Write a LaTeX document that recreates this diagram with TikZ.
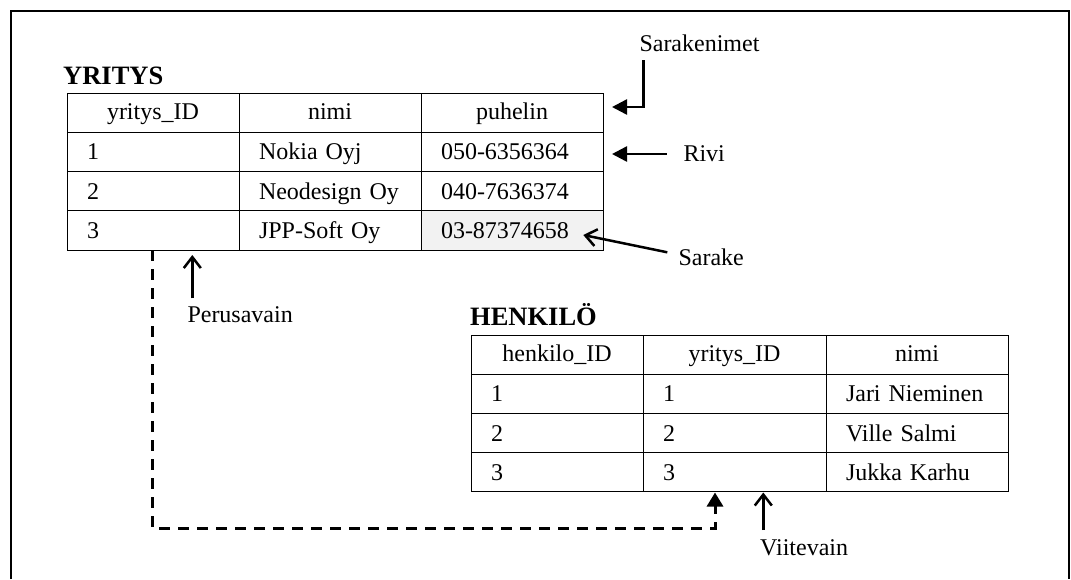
\documentclass[tikz,border=0pt]{standalone}
\usepackage{fontspec}
\setmainfont{Liberation Serif}
\usetikzlibrary{arrows.meta}
\definecolor{cellgray}{HTML}{F2F2F2}
\tikzset{
  cell/.style={draw=black, line width=0.9pt, anchor=north west, inner xsep=20pt, inner ysep=0pt,
    outer sep=0pt, minimum height=39.25pt, font=\fontsize{24}{28}\selectfont},
  hcell/.style={cell, align=center, text height=17pt, text depth=4pt},
  dcell/.style={cell, align=left, text height=19pt, text depth=3pt},
  wa/.style={text width=132pt},
  wb/.style={text width=142pt},
  wc/.style={text width=143pt},
  title/.style={anchor=base west, inner sep=0pt, font=\fontsize{26.5}{30}\selectfont\bfseries},
  lbl/.style={anchor=base west, inner sep=0pt, font=\fontsize{24}{28}\selectfont},
  arr/.style={line width=2.5pt},
  fillhead/.style={-{Triangle[length=15pt,width=15pt]}},
  openhead/.style={-{Straight Barb[length=11pt,width=17pt,line width=2.5pt]}},
  fk/.style={line width=3pt, dash pattern=on 11pt off 8pt}
}
\begin{document}
\begin{tikzpicture}[x=1pt,y=-1pt]
\useasboundingbox (0,0) rectangle (1071,579);
% outer frame (bottom edge outside the picture)
\draw[line width=2pt] (11,579) -- (11,11) -- (1069,11) -- (1069,579);

% ---------- YRITYS ----------
\node[title] (tY) at (63,84.3) {YRITYS};
\node[hcell,wa] (y01) at (67,93) {yritys\_ID};
\node[hcell,wb] (y02) at (239,93) {nimi};
\node[hcell,wb] (y03) at (421,93) {puhelin};
\node[dcell,wa] (y11) at (67,132.25) {1};
\node[dcell,wb] (y12) at (239,132.25) {Nokia Oyj};
\node[dcell,wb] (y13) at (421,132.25) {050-6356364};
\node[dcell,wa] (y21) at (67,171.5) {2};
\node[dcell,wb] (y22) at (239,171.5) {Neodesign Oy};
\node[dcell,wb] (y23) at (421,171.5) {040-7636374};
\node[dcell,wa] (y31) at (67,210.75) {3};
\node[dcell,wb] (y32) at (239,210.75) {JPP-Soft Oy};
\node[dcell,wb,fill=cellgray] (y33) at (421,210.75) {03-87374658};

% ---------- HENKILO ----------
\node[title] (tH) at (470,325.7) {HENKILÖ};
\node[hcell,wa] (h01) at (471,335) {henkilo\_ID};
\node[hcell,wc] (h02) at (643,335) {yritys\_ID};
\node[hcell,wb] (h03) at (826,335) {nimi};
\node[dcell,wa] (h11) at (471,374.2) {1};
\node[dcell,wc] (h12) at (643,374.2) {1};
\node[dcell,wb] (h13) at (826,374.2) {Jari Nieminen};
\node[dcell,wa] (h21) at (471,413.4) {2};
\node[dcell,wc] (h22) at (643,413.4) {2};
\node[dcell,wb] (h23) at (826,413.4) {Ville Salmi};
\node[dcell,wa] (h31) at (471,452.6) {3};
\node[dcell,wc] (h32) at (643,452.6) {3};
\node[dcell,wb] (h33) at (826,452.6) {Jukka Karhu};

% ---------- labels ----------
\node[lbl] (lSn) at (639.3,51.7) {Sarakenimet};
\node[lbl] (lRi) at (683.3,161.7) {Rivi};
\node[lbl] (lSa) at (678.3,265) {Sarake};
\node[lbl] (lPa) at (187.3,322.7) {Perusavain};
\node[lbl] (lVi) at (760,555) {Viitevain};

% ---------- annotation arrows ----------
\coordinate (snA) at (643.3,60);
\coordinate (snB) at (612,107);
\draw[arr,fillhead] (snA) |- (snB);

\coordinate (riA) at (666.7,154);
\coordinate (riB) at (612,154);
\draw[arr,fillhead] (riA) -- (riB);

\coordinate (saA) at (667.3,252.3);
\coordinate (saB) at (583.3,235);
\draw[arr,openhead] (saA) -- (saB);

\coordinate (paA) at (192.3,298.3);
\coordinate (paB) at (192.3,255);
\draw[arr,openhead] (paA) -- (paB);

\coordinate (viA) at (763.3,530);
\coordinate (viB) at (763.3,492.5);
\draw[arr,openhead] (viA) -- (viB);

% ---------- foreign key link ----------
\coordinate (fkA) at (152.7,250);
\coordinate (fkC) at (152.7,528.3);
\coordinate (fkD) at (715,528.3);
\coordinate (fkB) at (715,492.5);
\draw[fk] (fkA) -- (fkC) -- (fkD) -- ([yshift=-13pt]fkB);
\draw[line width=3pt,-{Triangle[length=14pt,width=16pt]}] ([yshift=-14pt]fkB) -- (fkB);
\end{tikzpicture}
\end{document}
